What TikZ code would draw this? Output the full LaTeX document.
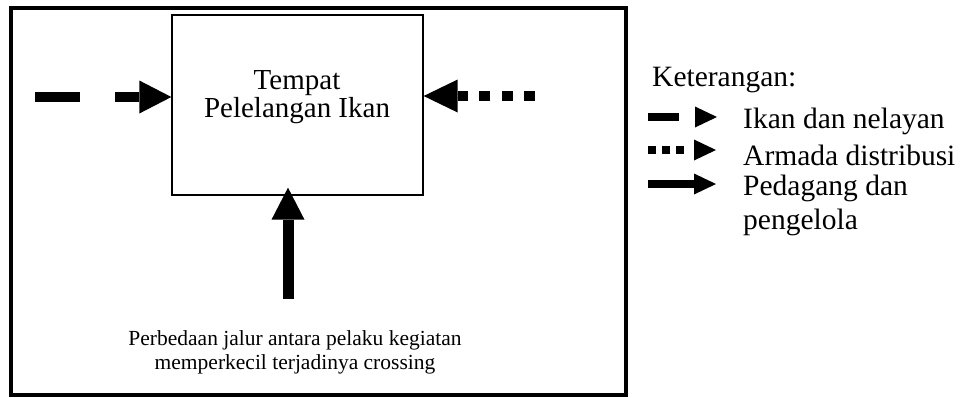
\documentclass[tikz,border=0pt]{standalone}
\usepackage{fontspec}
\setmainfont{Liberation Serif}
\usetikzlibrary{arrows.meta}
\tikzset{
  bigtip/.style={-{Triangle[length=#1,width=33pt,line width=0pt]}},
  bigtip/.default=32pt,
  smalltip/.style={-{Triangle[length=22pt,width=21pt,line width=0pt]}},
  flowfish/.style={line width=10pt,dash pattern=on 45pt off 35pt},
  flowfleet/.style={line width=10.5pt,dash pattern=on 11pt off 11.3pt},
  flowtrade/.style={line width=11pt},
  legtext/.style={anchor=west,font=\fontsize{29.5}{32}\selectfont,inner sep=0pt}
}
\begin{document}
\begin{tikzpicture}[x=1pt,y=-1pt]
  \useasboundingbox (0,0) rectangle (965,397);
  % outer frame
  \draw[line width=4pt] (10.5,7.5) rectangle (625.5,395);
  % auction hall
  \node[draw,line width=1.3pt,minimum width=251pt,minimum height=180pt,inner sep=0pt]
    (tpi) at (297.5,105) {};
  \node[align=center,font=\fontsize{29}{28}\selectfont] (title) at (297,97)
    {Tempat\\Pelelangan Ikan};
  % incoming flows
  \coordinate (fishsrc) at (35,97);
  \coordinate (fleetsrc) at (535,96);
  \coordinate (tradesrc) at (288,299);
  \draw[flowfish,bigtip] (fishsrc) -- (fishsrc -| tpi.west);
  \draw[flowfleet,bigtip=34pt] (fleetsrc) -- (fleetsrc -| tpi.east);
  \draw[flowtrade,bigtip] (tradesrc) -- ([yshift=8pt]tradesrc |- tpi.south);
  \node[align=center,font=\fontsize{21.5}{24}\selectfont] (note) at (295,352)
    {Perbedaan jalur antara pelaku kegiatan\\memperkecil terjadinya crossing};
  % legend
  \node[legtext] (legtitle) at (652,80) {Keterangan:};
  \node[legtext] (leg1) at (743,121) {Ikan dan nelayan};
  \node[legtext] (leg2) at (743,155) {Armada distribusi};
  \node[legtext] (leg3) at (743,188) {Pedagang dan};
  \node[legtext] (leg4) at (743,222) {pengelola};
  \coordinate (k1) at (648,117);
  \coordinate (k2) at (648,150);
  \coordinate (k3) at (648,184);
  \draw[line width=8pt,dash pattern=on 31pt off 20pt,smalltip] (k1) -- ++(69,0);
  \draw[line width=8.5pt,dash pattern=on 8pt off 6pt on 8pt off 6pt on 8pt off 20pt,smalltip] (k2) -- ++(68,0);
  \draw[line width=8pt,smalltip] (k3) -- ++(68,0);
\end{tikzpicture}
\end{document}
